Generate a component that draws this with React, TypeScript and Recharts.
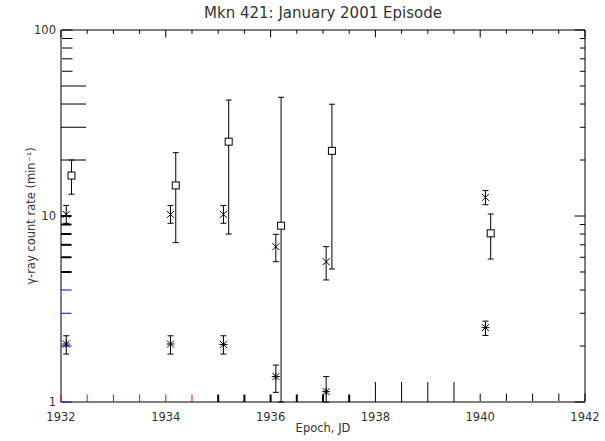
import { ScatterChart, Scatter, XAxis, YAxis, ErrorBar } from 'recharts'

const title = 'Mkn 421: January 2001 Episode'
const xLabel = 'Epoch, JD'
const yLabel = 'γ-ray count rate (min⁻¹)'

const xTicks = [
  1932, 1932.5, 1933, 1933.5, 1934, 1934.5, 1935, 1935.5, 1936, 1936.5, 1937,
  1937.5, 1938, 1938.5, 1939, 1939.5, 1940, 1940.5, 1941, 1941.5, 1942,
]
const yTicks = [1, 2, 3, 4, 5, 6, 7, 8, 9, 10, 20, 30, 40, 50, 60, 70, 80, 90, 100]
const yMajor = [1, 10, 100]

// open squares
const squareEpoch = [1932.2, 1934.19, 1935.2, 1936.2, 1937.17, 1940.2]
const squareRate = [16.5, 14.6, 25.1, 8.87, 22.4, 8.07]
const squareHigh = [20.0, 21.9, 42.0, 43.5, 39.9, 10.25]
const squareLow = [13.1, 7.19, 8.0, 1.0, 5.19, 5.87]

// crosses
const crossEpoch = [1932.1, 1934.09, 1935.1, 1936.1, 1937.06, 1940.1]
const crossRate = [10.2, 10.2, 10.2, 6.84, 5.68, 12.6]
const crossHigh = [11.4, 11.4, 11.4, 7.97, 6.84, 13.7]
const crossLow = [9.14, 9.14, 9.14, 5.68, 4.53, 11.5]

// asterisks
const starEpoch = [1932.1, 1934.09, 1935.1, 1936.1, 1937.06, 1940.1]
const starRate = [2.05, 2.05, 2.04, 1.37, 1.136, 2.51]
const starHigh = [2.27, 2.27, 2.27, 1.58, 1.37, 2.72]
const starLow = [1.81, 1.81, 1.81, 1.127, 1.0, 2.28]

const toRows = (ep: number[], rate: number[], hi: number[], lo: number[]) =>
  ep.map((x, i) => ({ x, y: rate[i], err: [rate[i] - lo[i], hi[i] - rate[i]] }))

const squares = toRows(squareEpoch, squareRate, squareHigh, squareLow)
const crosses = toRows(crossEpoch, crossRate, crossHigh, crossLow)
const stars = toRows(starEpoch, starRate, starHigh, starLow)

const W = 605
const H = 441

const font = '"DejaVu Sans", sans-serif'
const ink = '#000'
const textInk = '#333'

const xMajor = (v: number) => v % 2 === 0
const yIsMajor = (v: number) => yMajor.includes(v)

const TopTick = ({ x, y, payload }: any) => (
  <g>
    <line x1={x} x2={x} y1={y} y2={y + (xMajor(payload.value) ? 7.5 : 3.8)} stroke={ink} strokeWidth={1} />
  </g>
)

const RightTick = ({ x, y, payload }: any) => (
  <g>
    <line x1={x} x2={x - (yIsMajor(payload.value) ? 10.5 : 5.2)} y1={y} y2={y} stroke={ink} strokeWidth={1} />
  </g>
)

// test variants
const BottomTick = ({ x, y, payload }: any) => {
  const v = payload.value
  let line
  if (v < 1935) line = <line x1={x} x2={x} y1={y} y2={y - 7.5} stroke="red" strokeWidth={1} />
  else if (v < 1938) line = <line x1={x} x2={x} y1={y} y2={y - 7.5} stroke={ink} strokeWidth={2} />
  else if (v < 1940) line = <line x1={x} x2={x} y1={y} y2={y - 20} stroke={ink} strokeWidth={1} />
  else line = <line x1={x} x2={x} y1={y - 1} y2={y - 8.5} stroke={ink} strokeWidth={1} />
  return (
    <g>
      {line}
      {xMajor(v) ? (
        <text x={x} y={y + 19} textAnchor="middle" fontSize={11.5} fontFamily={font} fill={textInk}>
          {v}
        </text>
      ) : null}
    </g>
  )
}

const LeftTick = ({ x, y, payload }: any) => {
  const v = payload.value
  let line
  if (v < 5) line = <line x1={x} x2={x + 10.5} y1={y} y2={y} stroke="blue" strokeWidth={1} />
  else if (v < 20) line = <line x1={x} x2={x + 10.5} y1={y} y2={y} stroke={ink} strokeWidth={2} />
  else if (v < 60) line = <line x1={x} x2={x + 25} y1={y} y2={y} stroke={ink} strokeWidth={1} />
  else line = <line x1={x + 1} x2={x + 11.5} y1={y} y2={y} stroke={ink} strokeWidth={1} />
  return (
    <g>
      {line}
      {yIsMajor(v) ? (
        <text x={x - 5} y={y + 4} textAnchor="end" fontSize={11.5} fontFamily={font} fill={textInk}>
          {v}
        </text>
      ) : null}
    </g>
  )
}

const SquareDot = ({ cx, cy }: any) => (
  <rect x={cx - 3.5} y={cy - 3.5} width={7} height={7} fill="#fff" stroke={ink} />
)

const CrossDot = ({ cx, cy }: any) => (
  <path d={`M${cx - 3.5},${cy - 3.5}L${cx + 3.5},${cy + 3.5}M${cx - 3.5},${cy + 3.5}L${cx + 3.5},${cy - 3.5}`} stroke={ink} fill="none" />
)

const StarDot = ({ cx, cy }: any) => (
  <path
    d={`M${cx - 3.5},${cy - 3.5}L${cx + 3.5},${cy + 3.5}M${cx - 3.5},${cy + 3.5}L${cx + 3.5},${cy - 3.5}M${cx - 4},${cy}L${cx + 4},${cy}M${cx},${cy - 4}L${cx},${cy + 4}`}
    stroke={ink}
    fill="none"
  />
)

const axisCommon = {
  type: 'number' as const,
  interval: 0 as const,
  tickSize: 0,
  tickMargin: 0,
  tickLine: false,
  axisLine: { stroke: ink },
  allowDataOverflow: true,
}

export default function App() {
  return (
    <div style={{ position: 'absolute', left: 0, top: 0, width: W, height: H, background: '#fff' }}>
      <ScatterChart width={W} height={H} margin={{ top: 0, right: 0, bottom: 0, left: 0 }}>
        <XAxis
          {...axisCommon}
          xAxisId="b"
          dataKey="x"
          domain={[1932, 1942]}
          ticks={xTicks}
          height={39}
          tick={(p: any) => <BottomTick {...p} />}
          label={{ value: xLabel, position: 'insideBottom', offset: 9, style: { fontSize: 11.5, fontFamily: font, fill: textInk } }}
        />
        <XAxis
          {...axisCommon}
          xAxisId="t"
          orientation="top"
          dataKey="x"
          domain={[1932, 1942]}
          ticks={xTicks}
          height={30}
          tick={(p: any) => <TopTick {...p} />}
          label={{ value: title, position: 'insideTop', offset: 7, style: { fontSize: 15, fontFamily: font, fill: textInk } }}
        />
        <YAxis
          {...axisCommon}
          yAxisId="l"
          dataKey="y"
          scale="log"
          domain={[1, 100]}
          ticks={yTicks}
          width={61}
          tick={(p: any) => <LeftTick {...p} />}
          label={{ value: yLabel, angle: -90, position: 'insideLeft', offset: 31, style: { textAnchor: 'middle', fontSize: 11.5, fontFamily: font, fill: textInk } }}
        />
        <YAxis
          {...axisCommon}
          yAxisId="r"
          orientation="right"
          dataKey="y"
          scale="log"
          domain={[1, 100]}
          ticks={yTicks}
          width={20}
          tick={(p: any) => <RightTick {...p} />}
        />
        <Scatter data={squares} xAxisId="b" yAxisId="l" shape={SquareDot} isAnimationActive={false}>
          <ErrorBar dataKey="err" direction="y" width={3} stroke={ink} strokeWidth={1} isAnimationActive={false} />
        </Scatter>
        <Scatter data={crosses} xAxisId="b" yAxisId="l" shape={CrossDot} isAnimationActive={false}>
          <ErrorBar dataKey="err" direction="y" width={3} stroke={ink} strokeWidth={1} isAnimationActive={false} />
        </Scatter>
        <Scatter data={stars} xAxisId="b" yAxisId="l" shape={StarDot} isAnimationActive={false}>
          <ErrorBar dataKey="err" direction="y" width={3} stroke={ink} strokeWidth={1} isAnimationActive={false} />
        </Scatter>
      </ScatterChart>
    </div>
  )
}
